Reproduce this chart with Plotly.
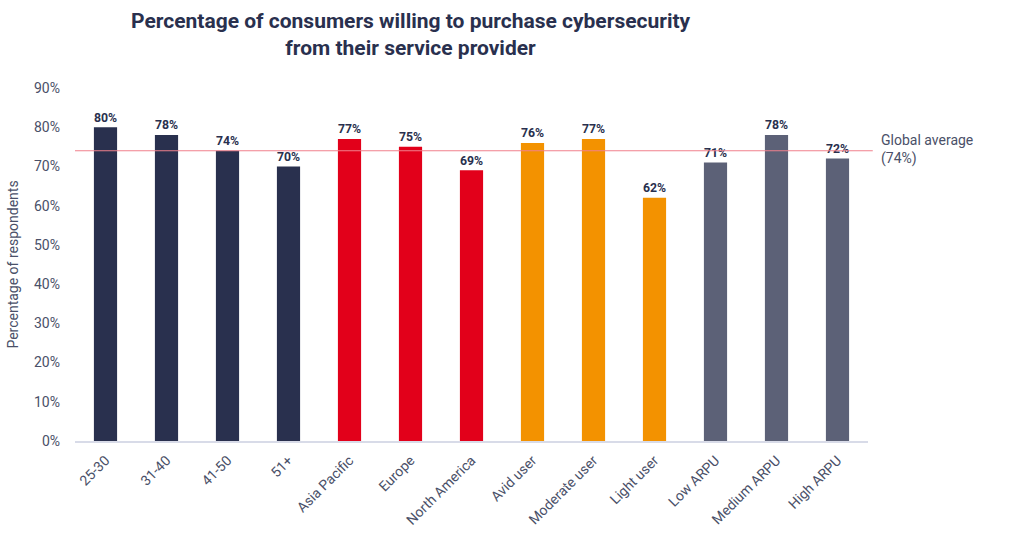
import plotly.graph_objects as go

categories = ["25-30", "31-40", "41-50", "51+", "Asia Pacific", "Europe", "North America",
              "Avid user", "Moderate user", "Light user", "Low ARPU", "Medium ARPU", "High ARPU"]
values = [80, 78, 74, 70, 77, 75, 69, 76, 77, 62, 71, 78, 72]
groups = ["age"] * 4 + ["region"] * 3 + ["usage"] * 3 + ["arpu"] * 3
group_colors = {"age": "#29304E", "region": "#E2001A", "usage": "#F39200", "arpu": "#5C6177"}
global_average = 74
y_ticks = [0, 10, 20, 30, 40, 50, 60, 70, 80, 90]
title_text = "Percentage of consumers willing to purchase cybersecurity<br>from their service provider"

navy = "#29304E"
grey_text = "#4A5068"

fig = go.Figure()
fig.add_trace(go.Bar(
    x=categories, y=values,
    marker=dict(color=[group_colors[g] for g in groups], line=dict(width=0)),
    text=[f"{v}%" for v in values], textposition="outside",
    textfont=dict(family="Roboto", size=14, color=navy, weight="bold"),
    cliponaxis=False,
    hoverinfo="skip",
))

fig.add_shape(type="line", xref="paper", yref="y", x0=0, x1=1.006,
              y0=global_average, y1=global_average,
              line=dict(color="#F0808C", width=1.2))
fig.add_annotation(xref="paper", yref="y", x=1.014, y=global_average + 0.3,
                   text=f"Global average<br>({global_average}%)", showarrow=False,
                   xanchor="left", yanchor="middle", align="left",
                   font=dict(family="Roboto", size=14, color=grey_text))
fig.add_annotation(xref="paper", yref="paper", x=0.4237, y=1.151,
                   text=title_text, showarrow=False,
                   xanchor="center", yanchor="middle", align="center",
                   font=dict(family="Roboto", size=21, color=navy, weight="bold"))

fig.update_layout(
    width=1024, height=554,
    margin=dict(l=75, r=156, t=88, b=113),
    paper_bgcolor="white", plot_bgcolor="white",
    bargap=0.62,
    showlegend=False,
    xaxis=dict(tickangle=-45, showline=True, linecolor="#D8DBE8", linewidth=1.5,
               tickfont=dict(family="Roboto", size=14, color=grey_text), ticks="",
               ticklabelstandoff=4, automargin=False),
    yaxis=dict(range=[0, 90], tickvals=y_ticks, ticktext=[f"{t}%" for t in y_ticks],
               showgrid=False, zeroline=False, showline=False,
               ticklabelstandoff=14, automargin=False,
               tickfont=dict(family="Roboto", size=14, color=grey_text),
               title=dict(text="Percentage of respondents", standoff=12,
                          font=dict(family="Roboto", size=14, color=grey_text))),
)

fig.write_html("out.html")
